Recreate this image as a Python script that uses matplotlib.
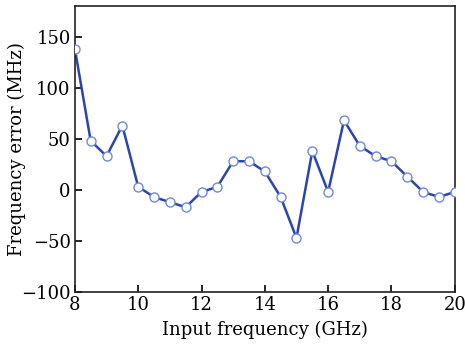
import matplotlib
matplotlib.use("Agg")
import matplotlib.pyplot as plt
import numpy as np

freq = [8, 8.5, 9, 9.5, 10, 10.5, 11, 11.5, 12, 12.5, 13, 13.5, 14, 14.5,
        15, 15.5, 16, 16.5, 17, 17.5, 18, 18.5, 19, 19.5, 20]
err = [138, 48, 33, 63, 3, -7, -12, -17, -2, 3, 28, 28, 18, -7,
       -47, 38, -2, 68, 43, 33, 28, 13, -2, -7, -2]
xticks = [8, 10, 12, 14, 16, 18, 20]
yticks = [-100, -50, 0, 50, 100, 150]

plt.rcParams['font.family'] = ['DejaVu Serif']
plt.rcParams['mathtext.fontset'] = 'dejavuserif'

fig = plt.figure(figsize=(4.65, 3.51), dpi=100)
ax = fig.add_axes([0.161, 0.168, 0.817, 0.815])
ax.plot(freq, err, color='#2a45b0', lw=1.8, zorder=2)
ax.plot(freq, err, ls='none', marker='o', ms=6.5, mfc='white', mec='#7088dc',
        mew=1.0, zorder=3, clip_on=True)
ax.set_xlim(8, 20)
ax.set_ylim(-100, 180)
ax.set_xticks(xticks)
ax.set_yticks(yticks)
ax.set_yticklabels([str(v).replace('-', '\u2212') for v in yticks])
ax.tick_params(direction='in', length=5, width=1.2, labelsize=13, pad=3)
for s in ax.spines.values():
    s.set_linewidth(1.2)
    s.set_color('#222222')
ax.set_xlabel('Input frequency (GHz)', fontsize=13, labelpad=5)
ax.set_ylabel('Frequency error (MHz)', fontsize=13)
ax.yaxis.set_label_coords(-0.128, 0.5)
fig.savefig('out.png', dpi=100)
